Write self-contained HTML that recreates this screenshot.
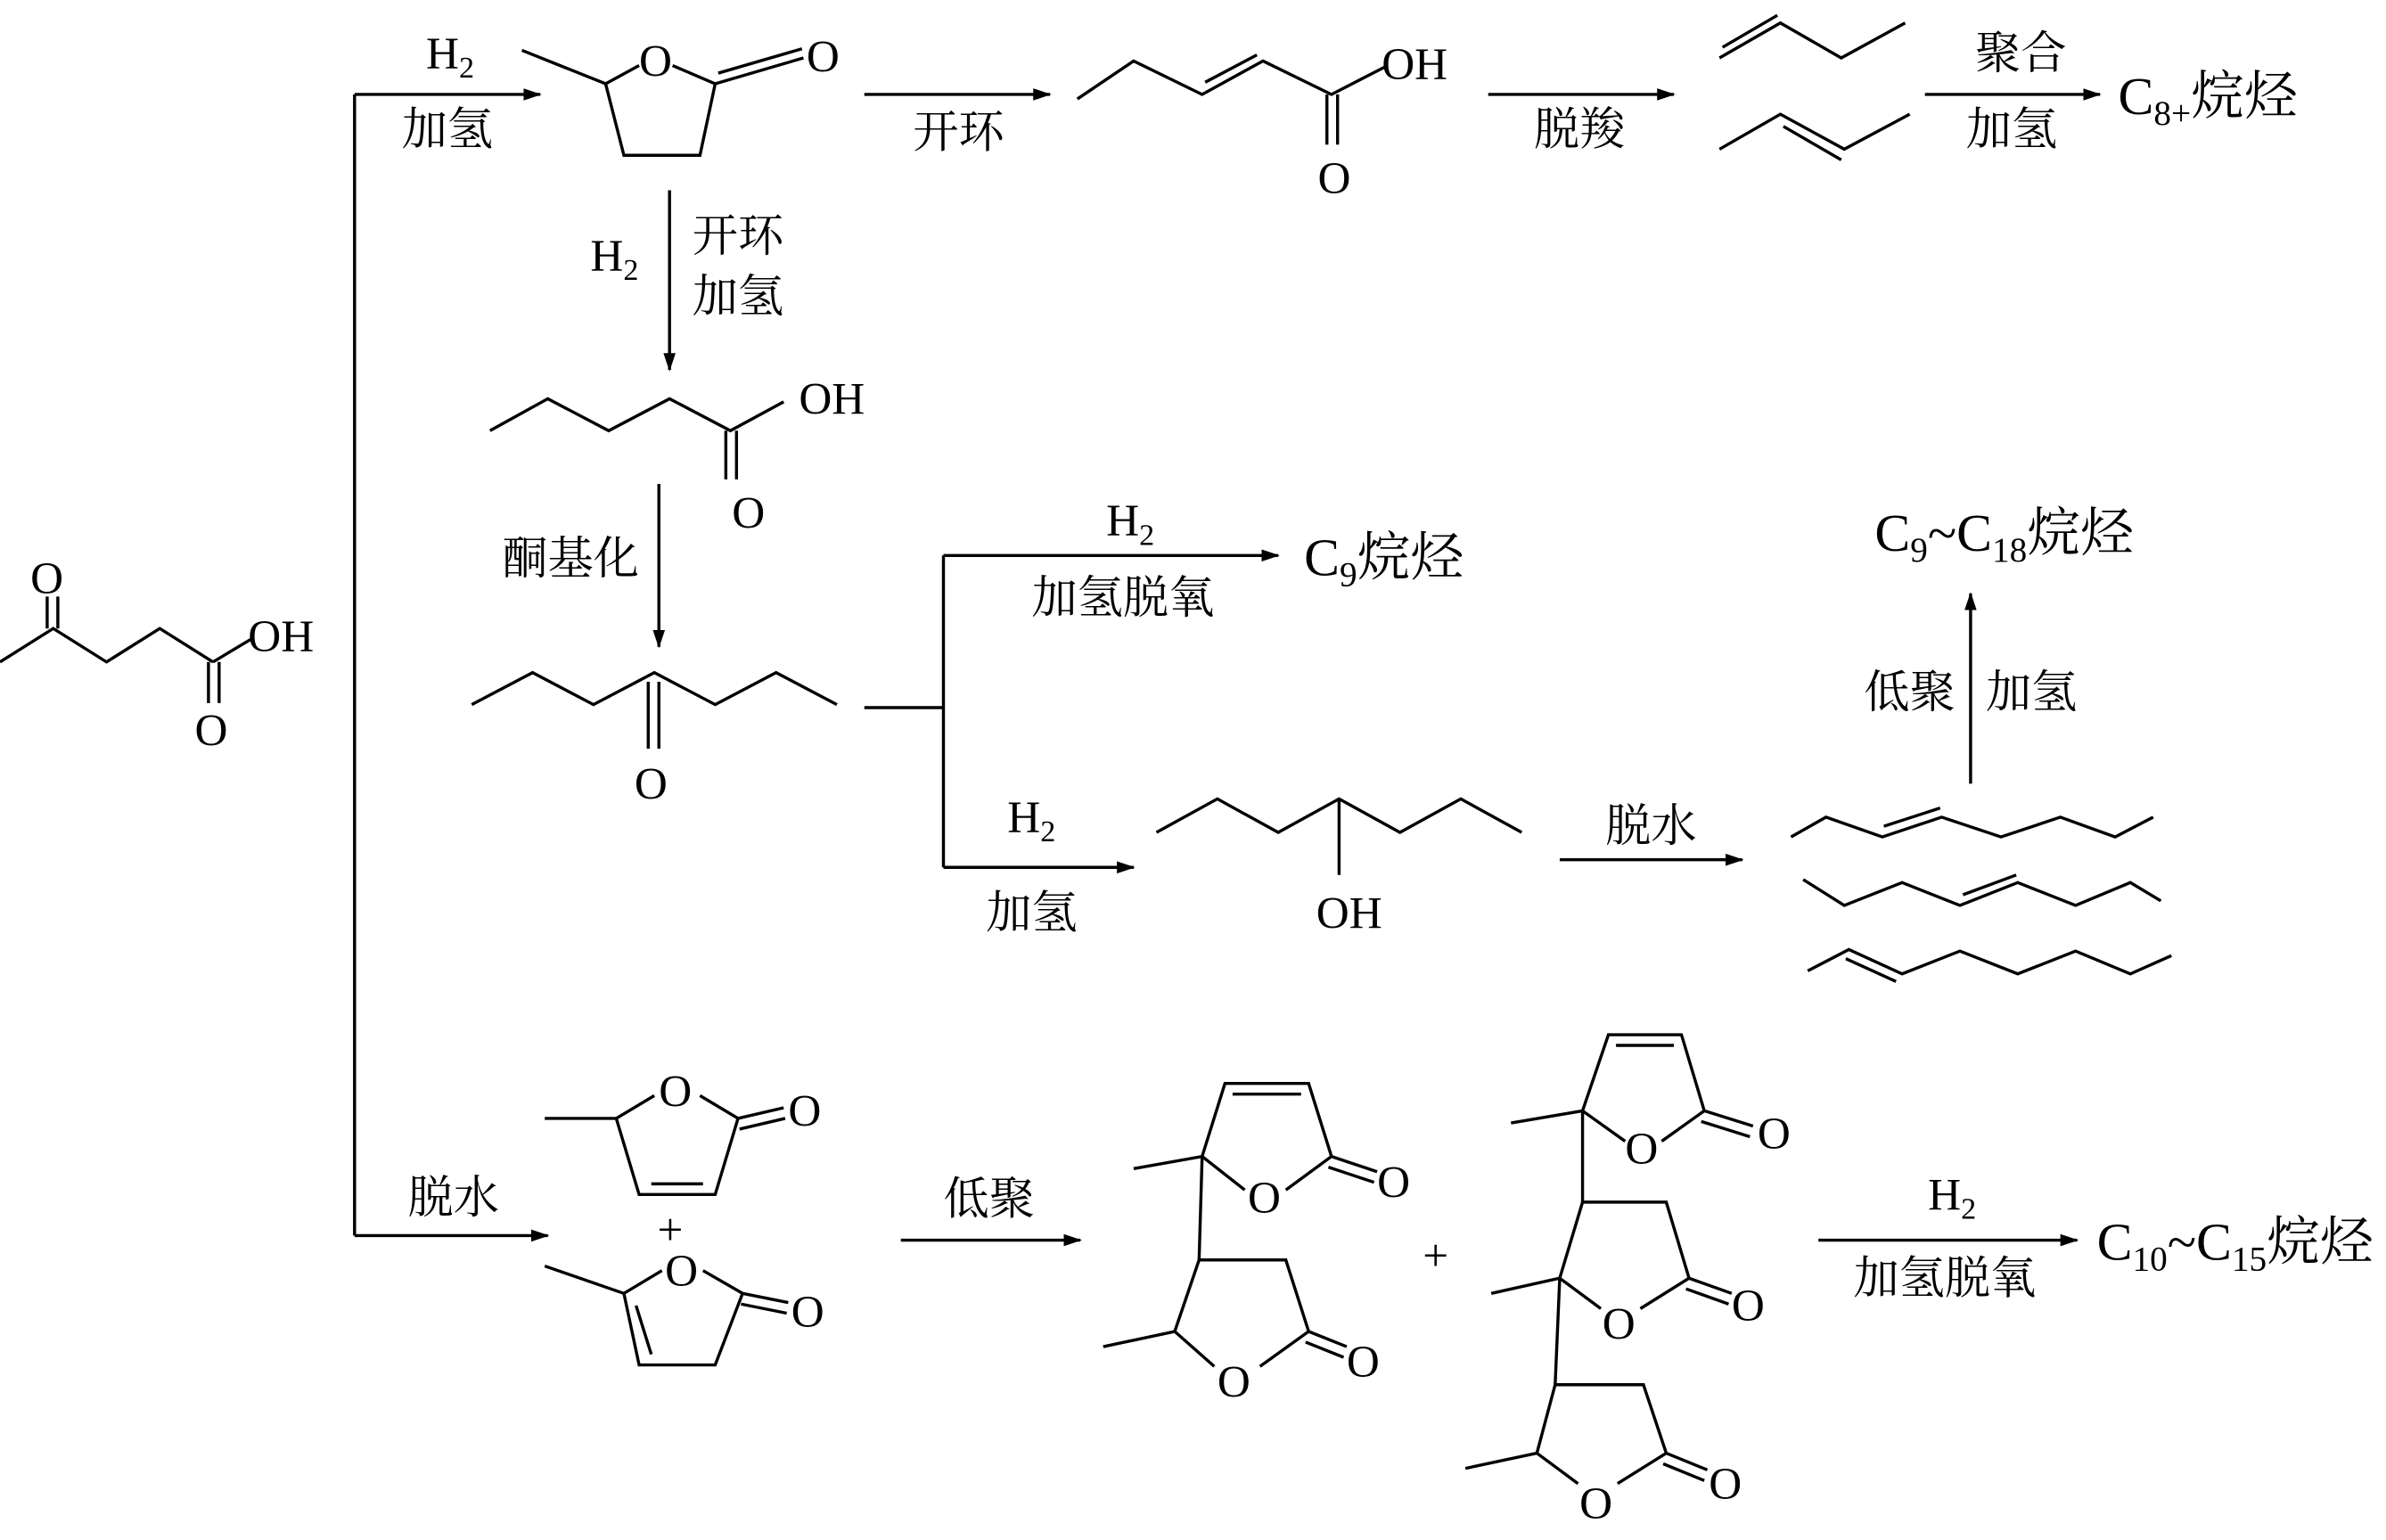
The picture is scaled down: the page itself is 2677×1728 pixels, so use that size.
<!DOCTYPE html>
<html><head><meta charset="utf-8"><style>
html,body{margin:0;padding:0;background:#fff}
svg{display:block}
text{font-family:"Liberation Serif","Noto Serif CJK SC","Noto Sans CJK SC",serif;font-size:30px;fill:#000}
.s{font-size:20px}
.p{font-size:35px}
.ps{font-size:23px}
</style></head><body>
<svg width="2677" height="1728" viewBox="0 0 1568 1012" xmlns="http://www.w3.org/2000/svg">
<defs><marker id="a" markerWidth="12" markerHeight="8" refX="11" refY="4" orient="auto" markerUnits="userSpaceOnUse"><path d="M0,0 L12,4 L0,8 z" fill="#000"/></marker></defs>
<g stroke="#000" stroke-width="2" fill="none">
<polyline points="0,435 35,413 70,435 105,413 140,435"/>
<line x1="31" y1="413" x2="31" y2="392"/><line x1="38" y1="413" x2="38" y2="392"/>
<line x1="137" y1="435" x2="137" y2="462"/><line x1="144" y1="435" x2="144" y2="462"/>
<line x1="140" y1="435" x2="165" y2="420"/>
<line x1="233" y1="62" x2="233" y2="812"/>
<line x1="233" y1="62" x2="355" y2="62" marker-end="url(#a)"/>
<line x1="233" y1="812" x2="360" y2="812" marker-end="url(#a)"/>
<polyline points="343,33 398,55 420,43"/><polyline points="442,43 470,55 460,102 410,102 398,55"/>
<line x1="470" y1="55" x2="528" y2="38"/><line x1="472" y1="48" x2="527" y2="32"/>
<line x1="568" y1="62" x2="690" y2="62" marker-end="url(#a)"/>
<polyline points="708,65 745,40 790,62 830,40 875,62 910,44"/>
<line x1="792" y1="54" x2="826" y2="36"/>
<line x1="872" y1="62" x2="872" y2="95"/><line x1="879" y1="62" x2="879" y2="95"/>
<line x1="978" y1="62" x2="1100" y2="62" marker-end="url(#a)"/>
<polyline points="1130,38 1170,15 1210,38 1252,15"/><line x1="1132" y1="31" x2="1168" y2="10"/>
<polyline points="1130,98 1170,75 1212,98 1255,75"/><line x1="1172" y1="83" x2="1210" y2="105"/>
<line x1="1265" y1="62" x2="1380" y2="62" marker-end="url(#a)"/>
<line x1="440" y1="125" x2="440" y2="243" marker-end="url(#a)"/>
<polyline points="322,283 360,262 400,283 440,262 480,283 515,264"/>
<line x1="477" y1="283" x2="477" y2="315"/><line x1="484" y1="283" x2="484" y2="315"/>
<line x1="433" y1="318" x2="433" y2="425" marker-end="url(#a)"/>
<polyline points="310,463 350,442 390,463 430,442 470,463 510,442 550,463"/>
<line x1="426" y1="448" x2="426" y2="492"/><line x1="433" y1="448" x2="433" y2="492"/>
<line x1="568" y1="465" x2="620" y2="465"/><line x1="620" y1="365" x2="620" y2="570"/>
<line x1="620" y1="365" x2="840" y2="365" marker-end="url(#a)"/>
<line x1="620" y1="570" x2="745" y2="570" marker-end="url(#a)"/>
<polyline points="760,547 800,525 840,547 880,525 920,547 960,525 1000,547"/>
<line x1="880" y1="525" x2="880" y2="575"/>
<line x1="1025" y1="565" x2="1145" y2="565" marker-end="url(#a)"/>
<polyline points="1177,550 1200,537 1237,550 1276,537 1315,550 1354,537 1390,550 1415,537"/>
<line x1="1238" y1="543" x2="1275" y2="531"/>
<polyline points="1185,578 1212,595 1250,580 1288,595 1326,580 1364,595 1400,580 1420,592"/>
<line x1="1290" y1="588" x2="1325" y2="575"/>
<polyline points="1188,638 1215,624 1250,640 1288,625 1326,640 1364,625 1400,640 1427,628"/>
<line x1="1213" y1="630" x2="1246" y2="645"/>
<line x1="1295" y1="515" x2="1295" y2="390" marker-end="url(#a)"/>
<polyline points="358,735 405,735 430,720"/><polyline points="460,720 485,735 470,785 420,785 405,735"/>
<line x1="428" y1="778" x2="462" y2="778"/>
<line x1="485" y1="735" x2="515" y2="728"/><line x1="486" y1="742" x2="516" y2="735"/>
<polyline points="358,832 410,850 435,835"/><polyline points="462,835 488,850 470,897 420,897 410,850"/>
<line x1="418" y1="858" x2="428" y2="890"/>
<line x1="488" y1="850" x2="518" y2="856"/><line x1="487" y1="857" x2="517" y2="863"/>
<line x1="592" y1="815" x2="710" y2="815" marker-end="url(#a)"/>
<polyline points="745,768 790,760 805,712 860,712 875,760 845,782"/><polyline points="818,782 790,760"/>
<line x1="810" y1="719" x2="855" y2="719"/>
<line x1="875" y1="760" x2="905" y2="770"/><line x1="873" y1="767" x2="903" y2="777"/>
<line x1="790" y1="760" x2="788" y2="828"/>
<polyline points="725,885 772,875 788,828 845,828 860,875 828,898"/><polyline points="798,898 772,875"/>
<line x1="860" y1="875" x2="885" y2="885"/><line x1="858" y1="882" x2="883" y2="892"/>
<polyline points="993,738 1040,730 1057,680 1105,680 1120,730 1092,750"/><polyline points="1068,750 1040,730"/>
<line x1="1062" y1="687" x2="1100" y2="687"/>
<line x1="1120" y1="730" x2="1152" y2="740"/><line x1="1118" y1="737" x2="1150" y2="747"/>
<line x1="1040" y1="730" x2="1040" y2="790"/>
<polyline points="980,850 1025,840 1040,790 1095,790 1110,840 1078,860"/><polyline points="1052,860 1025,840"/>
<line x1="1110" y1="840" x2="1138" y2="850"/><line x1="1108" y1="847" x2="1136" y2="857"/>
<line x1="1025" y1="840" x2="1022" y2="910"/>
<polyline points="963,965 1010,955 1022,910 1080,910 1095,955 1063,975"/><polyline points="1037,975 1010,955"/>
<line x1="1095" y1="955" x2="1122" y2="966"/><line x1="1093" y1="962" x2="1120" y2="973"/>
<line x1="1195" y1="815" x2="1365" y2="815" marker-end="url(#a)"/>
</g>
<g>
<text x="20" y="390">O</text><text x="128" y="490">O</text><text x="163" y="428">OH</text>
<text x="280" y="45">H<tspan class="s" dy="6">2</tspan></text><text x="264" y="95">加氢</text>
<text x="268" y="797">脱水</text>
<text x="420" y="50">O</text><text x="530" y="47">O</text>
<text x="600" y="97">开环</text>
<text x="908" y="52">OH</text><text x="866" y="127">O</text>
<text x="1008" y="95">脱羧</text>
<text x="1298" y="45">聚合</text><text x="1292" y="95">加氢</text>
<text class="p" x="1392" y="75">C<tspan class="ps" dy="7">8+</tspan><tspan dy="-7">烷烃</tspan></text>
<text x="388" y="178">H<tspan class="s" dy="6">2</tspan></text><text x="455" y="165">开环</text><text x="455" y="205">加氢</text>
<text x="525" y="272">OH</text><text x="481" y="347">O</text>
<text x="330" y="377">酮基化</text>
<text x="417" y="525">O</text>
<text x="727" y="352">H<tspan class="s" dy="6">2</tspan></text><text x="678" y="403">加氢脱氧</text>
<text class="p" x="857" y="378">C<tspan class="ps" dy="7">9</tspan><tspan dy="-7">烷烃</tspan></text>
<text x="662" y="547">H<tspan class="s" dy="6">2</tspan></text><text x="648" y="610">加氢</text>
<text x="865" y="610">OH</text>
<text x="1055" y="553">脱水</text>
<text class="p" x="1232" y="362">C<tspan class="ps" dy="7">9</tspan><tspan dy="-7">~C</tspan><tspan class="ps" dy="7">18</tspan><tspan dy="-7">烷烃</tspan></text>
<text x="1225" y="465">低聚</text><text x="1305" y="465">加氢</text>
<text x="433" y="727">O</text><text x="518" y="740">O</text>
<text x="432" y="818">+</text>
<text x="437" y="845">O</text><text x="520" y="872">O</text>
<text x="620" y="798">低聚</text>
<text x="820" y="797">O</text><text x="905" y="787">O</text>
<text x="800" y="918">O</text><text x="885" y="905">O</text>
<text x="935" y="835">+</text>
<text x="1068" y="765">O</text><text x="1155" y="755">O</text>
<text x="1053" y="880">O</text><text x="1138" y="868">O</text>
<text x="1038" y="998">O</text><text x="1123" y="985">O</text>
<text x="1267" y="795">H<tspan class="s" dy="6">2</tspan></text><text x="1218" y="850">加氢脱氧</text>
<text class="p" x="1378" y="828">C<tspan class="ps" dy="7">10</tspan><tspan dy="-7">~C</tspan><tspan class="ps" dy="7">15</tspan><tspan dy="-7">烷烃</tspan></text>
</g>
</svg>
</body></html>
